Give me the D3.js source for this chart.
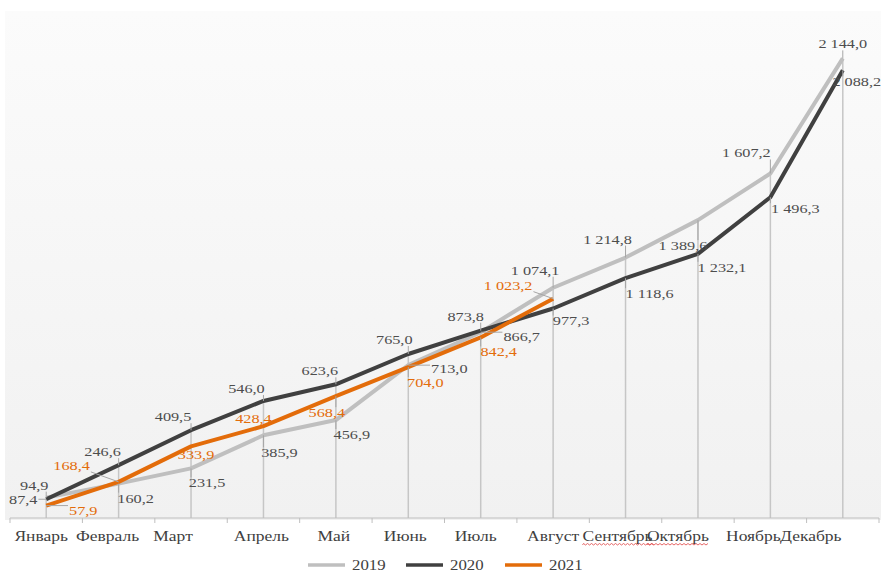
<!DOCTYPE html>
<html>
  <head>
    <meta charset="utf-8">
    <title>Line chart 2019-2021</title>
    <script src="https://d3js.org/d3.v7.min.js"></script>
    <style>
      body { margin: 0; background: #fff; }
      text { font-family: "Liberation Serif", "Times New Roman", serif; }
    </style>
  </head>
  <body>
    <div id="chart"></div>
    <script>
      const months = ["Январь", "Февраль", "Март", "Апрель", "Май", "Июнь",
        "Июль", "Август", "Сентябрь", "Октябрь", "Ноябрь", "Декабрь"];
      const years = ["2019", "2020", "2021"];
      const values2019 = [94.9, 160.2, 231.5, 385.9, 456.9, 713.0, 866.7, 1074.1, 1214.8, 1389.6, 1607.2, 2144.0];
      const values2020 = [87.4, 246.6, 409.5, 546.0, 623.6, 765.0, 873.8, 977.3, 1118.6, 1232.1, 1496.3, 2088.2];
      const values2021 = [57.9, 168.4, 333.9, 428.4, 568.4, 704.0, 842.4, 1023.2];

      const series = [
        { name: years[0], values: values2019, color: "#bfbfbf", labelColor: "#4d4d4d" },
        { name: years[1], values: values2020, color: "#404040", labelColor: "#4d4d4d" },
        { name: years[2], values: values2021, color: "#e36c0a", labelColor: "#e36c0a" }
      ];

      // label placement relative to the point: [dx of text centre, dy of baseline]
      const labelOffsets = [
        [[-12, -8], [17, 19], [16, 19], [16, 22], [16, 19], [41, 8], [41, 9], [-18, -13], [-18, -14], [-15, 30], [-24, -16], [0, -10]],
        [[-23, 5], [-16, -9], [-18, -9], [-17, -8], [-16, -9], [-14, -10], [-15, -10], [18, 17], [24, 20], [24, 18], [25, 16], [14, 16]],
        [[37, 9.5], [-47, -12], [5, 13], [-10, -3], [-9, 21], [17, 20], [18, 19], [-45, -9]]
      ];
      // small horizontal nudges of the month names
      const monthNudge = [-5, -11, -18, -2, -2, -3, -5, 0, -8, -20, -17, -32];

      const width = 881, height = 572;
      const sx = 1.25; // the source text is horizontally stretched

      const svg = d3.select("#chart").append("svg")
        .attr("width", width).attr("height", height);

      const defs = svg.append("defs");
      const grad = defs.append("linearGradient").attr("id", "bg")
        .attr("x1", 0).attr("y1", 0).attr("x2", 0).attr("y2", 1);
      grad.append("stop").attr("offset", "0%").attr("stop-color", "#fbfbfb");
      grad.append("stop").attr("offset", "100%").attr("stop-color", "#f1f1f1");

      svg.append("rect").attr("x", 5).attr("y", 11)
        .attr("width", width - 5).attr("height", 509)
        .attr("fill", "url(#bg)");

      const x = d3.scaleBand().domain(months).range([10, 879]);
      const y = d3.scaleLinear().domain([0, 2400]).range([518, 3.5]);
      const cx = m => x(m) + x.bandwidth() / 2;

      const fmt = v => {
        const s = d3.format(",.1f")(v);
        return s.replace(/,/g, " ").replace(".", ",");
      };

      // drop lines from the highest value of each month
      svg.append("g").selectAll("line")
        .data(months)
        .join("line")
        .attr("x1", cx).attr("x2", cx)
        .attr("y1", (m, i) => y(d3.max(series, s => s.values[i] ?? 0)))
        .attr("y2", y(0))
        .attr("stroke", "#c6c6c6")
        .attr("stroke-width", 1.5);

      // x axis
      const axis = svg.append("g").attr("transform", `translate(0,${y(0)})`);
      axis.append("line").attr("x1", 10).attr("x2", 879)
        .attr("stroke", "#bfbfbf").attr("stroke-width", 1);
      axis.selectAll(".tk")
        .data(months.concat([null]))
        .join("line")
        .attr("class", "tk")
        .attr("x1", (m, i) => 10 + i * x.step())
        .attr("x2", (m, i) => 10 + i * x.step())
        .attr("y1", 0).attr("y2", 5)
        .attr("stroke", "#bfbfbf");
      const monthText = axis.selectAll(".ml")
        .data(months)
        .join("text")
        .attr("class", "ml")
        .attr("transform", (m, i) => `translate(${cx(m) + monthNudge[i]},23) scale(${sx},1)`)
        .attr("text-anchor", "middle")
        .attr("font-size", 14)
        .attr("fill", "#404040")
        .text(d => d);

      // spell-check squiggles under Сентябрь / Октябрь
      monthText.filter(m => m === "Сентябрь" || m === "Октябрь").each(function (m) {
        const i = months.indexOf(m);
        const w = this.getComputedTextLength() * sx;
        const x0 = cx(m) + monthNudge[i] - w / 2;
        let d = `M${x0},27`;
        for (let k = 0; k * 2 < w; k++) d += `L${x0 + k * 2 + 1},${k % 2 ? 27 : 25.5}`;
        axis.append("path").attr("d", d).attr("fill", "none")
          .attr("stroke", "#e04040").attr("stroke-width", 0.8);
      });

      // lines
      const line = d3.line()
        .x((v, i) => cx(months[i]))
        .y(v => y(v));

      svg.append("g").selectAll("path")
        .data(series)
        .join("path")
        .attr("d", s => line(s.values))
        .attr("fill", "none")
        .attr("stroke", s => s.color)
        .attr("stroke-width", 4)
        .attr("stroke-linejoin", "round");

      // data labels with leader lines
      const leaders = svg.append("g");
      const labels = svg.append("g");
      series.forEach((s, si) => {
        s.values.forEach((v, i) => {
          const px = cx(months[i]), py = y(v);
          const [dx, dy] = labelOffsets[si][i];
          const tx = px + dx, ty = py + dy;
          const t = labels.append("text")
            .attr("transform", `translate(${tx},${ty}) scale(${sx},1)`)
            .attr("text-anchor", "middle")
            .attr("font-size", 13)
            .attr("fill", s.labelColor)
            .text(fmt(v));
          const w = t.node().getComputedTextLength() * sx;
          const bx0 = tx - w / 2 - 1, bx1 = tx + w / 2 + 1;
          const by0 = ty - 10, by1 = ty + 2;
          const qx = Math.max(bx0, Math.min(px, bx1));
          const qy = Math.max(by0, Math.min(py, by1));
          if (Math.hypot(qx - px, qy - py) > 5) {
            leaders.append("line")
              .attr("x1", px).attr("y1", py)
              .attr("x2", qx).attr("y2", qy)
              .attr("stroke", "#a6a6a6").attr("stroke-width", 1);
          }
        });
      });

      // legend
      const legend = svg.append("g").attr("transform", "translate(0,565)");
      const legendX = [308, 406, 505];
      series.forEach((s, i) => {
        legend.append("line")
          .attr("x1", legendX[i]).attr("x2", legendX[i] + 37)
          .attr("stroke", s.color).attr("stroke-width", 3.5);
        legend.append("text")
          .attr("transform", `translate(${legendX[i] + 44},5) scale(1.2,1)`)
          .attr("font-size", 14)
          .attr("fill", "#404040")
          .text(s.name);
      });
    </script>
  </body>
</html>
